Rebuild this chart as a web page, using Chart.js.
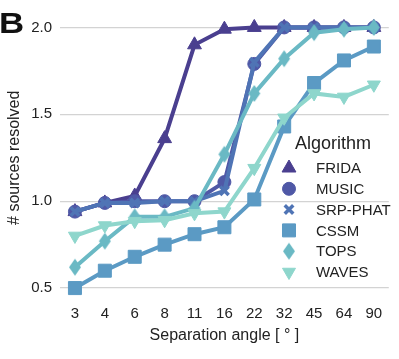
<!DOCTYPE html>
<html>
<head>
<meta charset="utf-8">
<script src="https://cdn.jsdelivr.net/npm/chart.js@4/dist/chart.umd.min.js"></script>
<style>
  html, body { margin: 0; padding: 0; background: #fff; }
  #wrap { position: relative; width: 399px; height: 359px; }
  #panel { position: absolute; left: -1px; top: 7px; font: bold 29px/33px "Liberation Sans", Arial, sans-serif; color: #111; transform: scale(1.2, 1); transform-origin: 0 0; }
</style>
</head>
<body>
<div id="wrap">
  <canvas id="resolvedChart" width="399" height="359"></canvas>
  <div id="panel">B</div>
</div>
<script>
// separation angles (degrees)
var angles = ['3', '4', '6', '8', '11', '16', '22', '32', '45', '64', '90'];

// number of sources resolved per algorithm
var frida   = [0.94, 0.99, 1.03, 1.36, 1.90, 1.99, 2.00, 2.00, 2.00, 2.00, 2.00];
var music   = [0.94, 0.99, 1.00, 1.00, 1.00, 1.11, 1.79, 2.00, 2.00, 2.00, 2.00];
var srpPhat = [0.94, 0.99, 0.99, 1.00, 1.00, 1.06, 1.80, 2.00, 2.00, 2.00, 2.00];
var cssm    = [0.50, 0.60, 0.68, 0.75, 0.81, 0.85, 1.01, 1.43, 1.68, 1.81, 1.89];
var tops    = [0.62, 0.77, 0.91, 0.91, 0.96, 1.27, 1.62, 1.82, 1.97, 1.99, 2.00];
var waves   = [0.80, 0.86, 0.885, 0.89, 0.93, 0.94, 1.19, 1.48, 1.62, 1.60, 1.67];

var yTicks = [0.5, 1.0, 1.5, 2.0];

var txt = '#222';
Chart.defaults.font.family = '"Liberation Sans", Arial, Helvetica, sans-serif';
Chart.defaults.color = txt;

// tall diamond marker for TOPS
function diamond(color, w, h) {
    var c = document.createElement('canvas');
    c.width = w + 2;
    c.height = h + 2;
    var g = c.getContext('2d');
    g.fillStyle = color;
    g.beginPath();
    g.moveTo(c.width / 2, 1);
    g.lineTo(c.width - 1, c.height / 2);
    g.lineTo(c.width / 2, c.height - 1);
    g.lineTo(1, c.height / 2);
    g.closePath();
    g.fill();
    return c;
}

function series(label, data, color, style, radius, rotation, order) {
    return {
        label: label,
        data: data,
        borderColor: color,
        backgroundColor: color,
        borderWidth: 4,
        pointStyle: style,
        pointRadius: radius,
        pointRotation: rotation,
        pointBorderWidth: style === 'crossRot' ? 3.5 : 1,
        pointBorderColor: color,
        pointBackgroundColor: color,
        tension: 0,
        order: order
    };
}

var datasets = [
    series('FRIDA', frida, '#4a3f8f', 'triangle', 8, 0, 5),
    series('MUSIC', music, '#4f58a6', 'circle', 6.5, 0, 4),
    series('SRP-PHAT', srpPhat, '#4f74b5', 'crossRot', 6, 0, 3),
    series('CSSM', cssm, '#5b9ac4', 'rect', 9.2, 0, 2),
    series('TOPS', tops, '#6ab9c4', diamond('#6ab9c4', 12, 17), 8, 0, 1),
    series('WAVES', waves, '#8ed6cc', 'triangle', 7.5, 180, 0)
];

// legend drawn inside the plot, lower right
var insideLegend = {
    id: 'insideLegend',
    afterDatasetsDraw: function(chart) {
        var ctx = chart.ctx;
        ctx.save();
        ctx.fillStyle = txt;
        ctx.textBaseline = 'middle';
        ctx.textAlign = 'left';
        ctx.font = '18px "Liberation Sans", Arial, sans-serif';
        ctx.fillText('Algorithm', 295, 144);
        ctx.font = '15px "Liberation Sans", Arial, sans-serif';
        chart.data.datasets.forEach(function(ds, i) {
            var y = 168 + i * 20.8;
            ctx.fillStyle = ds.borderColor;
            ctx.strokeStyle = ds.borderColor;
            ctx.lineWidth = ds.pointBorderWidth;
            Chart.helpers.drawPoint(ctx, {
                pointStyle: ds.pointStyle,
                rotation: ds.pointRotation,
                radius: ds.pointRadius,
                borderWidth: ds.pointBorderWidth
            }, 289, y);
            ctx.fillStyle = txt;
            ctx.fillText(ds.label, 316, y + 1);
        });
        ctx.restore();
    }
};

new Chart(document.getElementById('resolvedChart'), {
    type: 'line',
    data: { labels: angles, datasets: datasets },
    options: {
        responsive: false,
        animation: false,
        layout: { padding: { top: 15.5, right: 9, bottom: 0, left: 0 } },
        plugins: {
            legend: { display: false },
            tooltip: { enabled: false }
        },
        scales: {
            x: {
                type: 'category',
                offset: true,
                grid: { display: false, drawTicks: false },
                border: { display: false },
                ticks: { font: { size: 15 }, padding: 6, color: txt, maxRotation: 0 },
                title: { display: true, text: 'Separation angle [ ° ]', font: { size: 16 }, color: txt, padding: { top: 4, bottom: 14 } },
                afterFit: function(s) { s.height = 60.5; }
            },
            y: {
                min: 0.44,
                max: 2.06,
                grid: { color: '#d3d3d3', lineWidth: 1.3, drawTicks: false },
                border: { display: false },
                ticks: {
                    font: { size: 15 },
                    padding: 8,
                    color: txt,
                    callback: function(v) { return v.toFixed(1); }
                },
                afterBuildTicks: function(s) {
                    s.ticks = yTicks.map(function(v) { return { value: v }; });
                },
                title: { display: true, text: '# sources resolved', font: { size: 16 }, color: txt, padding: { top: 5, bottom: 0 } },
                afterFit: function(s) { s.width = 60; }
            }
        }
    },
    plugins: [insideLegend]
});
</script>
</body>
</html>
